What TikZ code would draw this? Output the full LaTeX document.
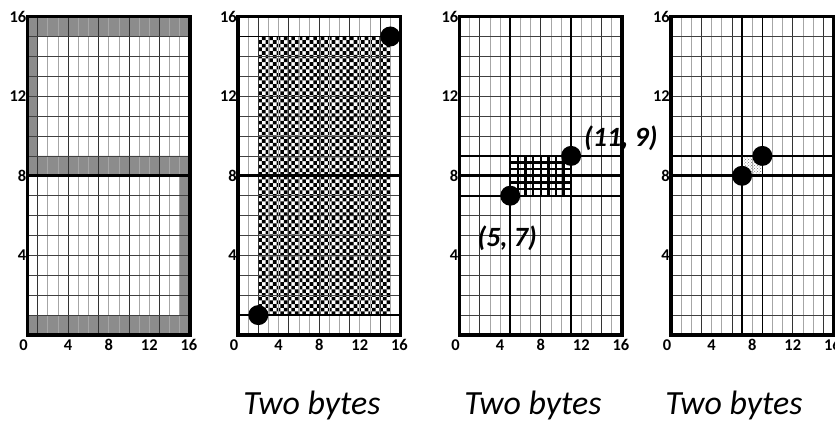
\documentclass[tikz,border=0pt]{standalone}
\usepackage{fontspec}
\setmainfont{Carlito}
\usepackage{tikz}
\usetikzlibrary{patterns}

\begin{document}
\begin{tikzpicture}[x=1bp, y=1bp,
    minor/.style={black!35, line width=0.7bp},
    darkline/.style={black!80, line width=0.7bp},
    rowline/.style={black!75, line width=0.7bp},
    midline/.style={line width=1.6bp},
    thickline/.style={line width=2.8bp},
    border/.style={line width=3.6bp},
    hatch/.style={line width=2.4bp},
    ticklab/.style={font=\fontsize{16.5}{16.5}\selectfont\bfseries, inner sep=0pt},
    ptlab/.style={font=\fontsize{28}{28}\selectfont\bfseries\itshape, inner sep=0pt},
    caption/.style={font=\fontsize{34}{34}\selectfont\itshape, inner sep=0pt, anchor=base}]

\useasboundingbox (0,0) rectangle (835,421);

% Backgrounds: grey frame (panel a)
\begin{scope}[shift={(27.5,86)}, x=10.15bp, y=19.9bp]
  \fill[black!45] (0,15) rectangle (16,16) (0,8) rectangle (16,9)
    (0,0) rectangle (16,1) (0,9) rectangle (1,15) (15,1) rectangle (16,8);
\end{scope}

% Checkerboard (panel b)
\begin{scope}[shift={(238,86)}, x=10.15bp, y=19.9bp]
  \foreach \i in {0,...,35} {
    \pgfmathtruncatemacro\s{mod(\i,2)}
    \pgfmathtruncatemacro\t{\s+2}
    \fill \foreach \j in {\s,\t,...,75} {({2+\i*13/36},{1+\j*14/76}) rectangle ++({13/36},{14/76})};
  }
\end{scope}

% Dotted patch (panel d)
\begin{scope}[shift={(671,86)}, x=10.15bp, y=19.9bp]
  \fill[pattern=crosshatch dots, pattern color=black!55] (7.2,8.1) rectangle (8.9,8.9);
\end{scope}

% Grid of each panel: origin / first darker column / name
\foreach \ox/\dk/\p in {27.5/1/a, 238/2/b, 459.5/2/c, 671/3/d} {
  \begin{scope}[shift={(\ox,86)}, x=10.15bp, y=19.9bp]
    \foreach \x in {1,...,15} {
      \pgfmathtruncatemacro\m{mod(\x-\dk,3)}
      \ifnum\m=0 \draw[darkline] (\x,0) -- (\x,16);
      \else \draw[minor] (\x,0) -- (\x,16); \fi
    }
    \foreach \y in {1,...,15}
      \draw[rowline] (0,\y) -- (16,\y);
    \draw[thickline] (0,8) -- (16,8);
    \draw[border] (0,0) rectangle (16,16);
    % axis labels
    \foreach \u/\t in {-0.4/0, 4/4, 8/8, 12/12, 15.9/16}
      \node[ticklab] (\p-x\t) at (\u,-0.5) {\t};
    \foreach \t in {4,8,12,16}
      \node[ticklab, anchor=east] (\p-y\t) at ([xshift=-1bp]0,\t) {\t};
  \end{scope}
}

% Panel b: corners
\begin{scope}[shift={(238,86)}, x=10.15bp, y=19.9bp]
  \draw[midline] (0,1) -- (16,1) (0,15) -- (16,15);
  \fill (2,1) circle[radius=10bp];
  \fill (15,15) circle[radius=10bp];
\end{scope}

% Panel c: box from (5,7) to (11,9)
\begin{scope}[shift={(459.5,86)}, x=10.15bp, y=19.9bp]
  \draw[midline] (0,7) -- (16,7) (0,9) -- (16,9) (5,0) -- (5,16) (11,0) -- (11,16);
  \draw[hatch] \foreach \k in {0,...,8} {({5+0.75*\k},7) -- ({5+0.75*\k},9)}
    \foreach \k in {0,...,6} {(5,{7+\k/3}) -- (11,{7+\k/3})};
  \fill (5,7) circle[radius=10bp];
  \fill (11,9) circle[radius=10bp];
  \node[ptlab] (c-lo) at (4.7,4.87) {(5, 7)};
  \node[ptlab] (c-hi) at (15.9,9.9) {(11, 9)};
\end{scope}

% Panel d: box from (7,8) to (9,9)
\begin{scope}[shift={(671,86)}, x=10.15bp, y=19.9bp]
  \draw[midline] (0,9) -- (16,9) (7,0) -- (7,16) (9,0) -- (9,16);
  \fill (7,8) circle[radius=10bp];
  \fill (9,9) circle[radius=10bp];
\end{scope}

% Captions
\node[caption] (cap-b) at (312,7) {Two bytes};
\node[caption] (cap-c) at (533,7) {Two bytes};
\node[caption] (cap-d) at (734,7) {Two bytes};

\end{tikzpicture}
\end{document}
